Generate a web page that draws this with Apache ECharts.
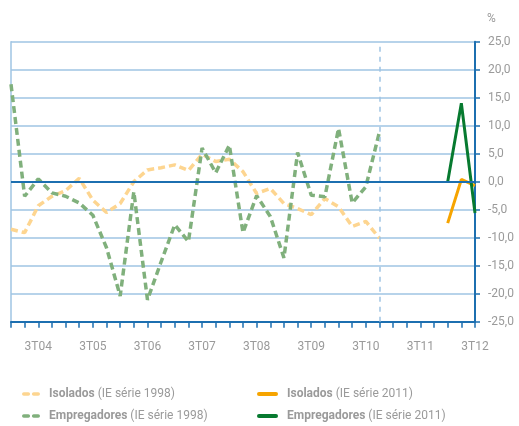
<!DOCTYPE html>
<html>
<head>
<meta charset="utf-8">
<script src="https://cdn.jsdelivr.net/npm/echarts@6/dist/echarts.min.js"></script>
<style>
  html, body { margin: 0; padding: 0; background: #fff; }
  #chart { width: 519px; height: 426px; }
</style>
</head>
<body>
<div id="chart"></div>
<script>
// trimestres 1T04 .. 3T12
var quarters = [
  "1T04", "2T04", "3T04", "4T04", "1T05", "2T05", "3T05", "4T05",
  "1T06", "2T06", "3T06", "4T06", "1T07", "2T07", "3T07", "4T07",
  "1T08", "2T08", "3T08", "4T08", "1T09", "2T09", "3T09", "4T09",
  "1T10", "2T10", "3T10", "4T10", "1T11", "2T11", "3T11", "4T11",
  "1T12", "2T12", "3T12"
];

var isolados1998 = [
  -8.5, -9.1, -4.3, -2.6, -1.6, 0.6, -3.3, -5.5,
  -3.9, 0.0, 2.1, 2.5, 3.0, 2.0, 4.9, 3.6,
  4.0, 1.8, -2.1, -1.2, -3.9, -4.8, -5.9, -3.0,
  -4.5, -8.0, -7.1, -10.1
];
var empregadores1998 = [
  17.4, -2.6, 0.5, -2.0, -2.6, -3.8, -6.0, -11.8,
  -20.4, -1.8, -21.1, -14.3, -7.7, -10.7, 6.0, 1.6,
  6.5, -9.1, -2.5, -6.2, -13.6, 5.2, -2.4, -2.7,
  9.5, -3.8, -0.9, 8.9
];
// série 2011: 1T12 .. 3T12
var isolados2011 = [-7.4, 0.4, -0.7];
var empregadores2011 = [0.0, 14.0, -5.6];

var yTicks = [-25, 25, 5];  // min, max, interval
var serieBreak = "4T10";

function pad(arr, start) {
  var out = [];
  for (var i = 0; i < quarters.length; i++) {
    out.push(i >= start && i - start < arr.length ? arr[i - start] : null);
  }
  return out;
}

var chart = echarts.init(document.getElementById("chart"));

var lightBlue = "#9fc4e3";
var darkBlue = "#1c6fb0";
var gray = "#9a9a9a";

var dashed = [7, 4];
var dashIcon = "path://M2,0H7A2,2 0 0 1 7,4H2A2,2 0 0 1 2,0ZM13,0H18A2,2 0 0 1 18,4H13A2,2 0 0 1 13,0Z";
var solidIcon = "path://M2,0H19A2,2 0 0 1 19,4H2A2,2 0 0 1 2,0Z";

var legendText = {
  color: gray,
  fontSize: 12,
  fontFamily: "Roboto",
  padding: [0, 0, 0, 4],
  rich: {
    b: { fontWeight: "bold", color: gray, fontSize: 12, fontFamily: "Roboto" },
    n: { color: gray, fontSize: 12, fontFamily: "Roboto" }
  }
};
function legendFmt(name) {
  var i = name.indexOf(" ");
  return "{b|" + name.slice(0, i) + "} {n|" + name.slice(i + 1) + "}";
}
function legendAt(name, left, top, w, icon) {
  return {
    left: left,
    top: top,
    padding: 0,
    icon: icon,
    itemWidth: w,
    itemHeight: 4,
    data: [name],
    formatter: legendFmt,
    textStyle: legendText
  };
}

var options = {
  animation: false,
  grid: {
    left: 11,
    right: 44,
    top: 41.7,
    bottom: 104.3
  },
  legend: [
    legendAt("Isolados (IE série 1998)", 22, 388, 18, dashIcon),
    legendAt("Empregadores (IE série 1998)", 22, 410, 18, dashIcon),
    legendAt("Isolados (IE série 2011)", 257, 388, 21, solidIcon),
    legendAt("Empregadores (IE série 2011)", 257, 410, 21, solidIcon)
  ],
  xAxis: {
    type: "category",
    boundaryGap: false,
    data: quarters,
    axisLine: {
      onZero: false,
      lineStyle: { color: darkBlue, width: 2 }
    },
    axisTick: {
      show: true,
      interval: 0,
      length: 6,
      lineStyle: { color: darkBlue, width: 1.5 }
    },
    axisLabel: {
      interval: function (i) { return i % 4 === 2; },
      color: gray,
      fontSize: 12,
      fontFamily: "Roboto",
      margin: 19
    },
    splitLine: { show: false }
  },
  yAxis: [
    {
      type: "value",
      position: "right",
      min: yTicks[0],
      max: yTicks[1],
      interval: yTicks[2],
      name: "%",
      nameLocation: "end",
      nameGap: 17,
      nameTextStyle: {
        color: gray,
        fontSize: 12,
        fontFamily: "Roboto",
        align: "left",
        padding: [0, 0, 0, 12]
      },
      axisLine: {
        show: true,
        lineStyle: { color: darkBlue, width: 2 }
      },
      axisTick: {
        show: true,
        length: 5,
        lineStyle: { color: darkBlue, width: 1.5 }
      },
      axisLabel: {
        color: gray,
        fontSize: 12,
        fontFamily: "Roboto",
        margin: 13,
        align: "left",
        formatter: function (v) { return v.toFixed(1).replace(".", ","); }
      },
      splitLine: {
        show: true,
        lineStyle: { color: lightBlue, width: 1.5 }
      }
    },
    {
      // linha vertical da esquerda
      type: "value",
      position: "left",
      min: yTicks[0],
      max: yTicks[1],
      interval: yTicks[2],
      axisLine: { show: true, lineStyle: { color: lightBlue, width: 1.5 } },
      axisTick: { show: false },
      axisLabel: { show: false },
      splitLine: { show: false }
    }
  ],
  series: [
    {
      name: "Isolados (IE série 1998)",
      type: "line",
      data: pad(isolados1998, 0),
      symbol: "none",
      z: 3,
      itemStyle: { color: "#fdd590" },
      lineStyle: { color: "#fdd590", width: 3.5, type: dashed },
      markLine: {
        silent: true,
        symbol: "none",
        label: { show: false },
        data: [
          { xAxis: serieBreak, lineStyle: { color: lightBlue, width: 1.5, type: [5, 5] } },
          { yAxis: 0, lineStyle: { color: darkBlue, width: 2, type: "solid" } }
        ]
      }
    },
    {
      name: "Isolados (IE série 2011)",
      type: "line",
      data: pad(isolados2011, 32),
      symbol: "none",
      z: 4,
      itemStyle: { color: "#f6a400" },
      lineStyle: { color: "#f6a400", width: 3 }
    },
    {
      name: "Empregadores (IE série 1998)",
      type: "line",
      data: pad(empregadores1998, 0),
      symbol: "none",
      z: 3,
      itemStyle: { color: "#80b07c" },
      lineStyle: { color: "#80b07c", width: 3.5, type: dashed }
    },
    {
      name: "Empregadores (IE série 2011)",
      type: "line",
      data: pad(empregadores2011, 32),
      symbol: "none",
      z: 4,
      itemStyle: { color: "#077a30" },
      lineStyle: { color: "#077a30", width: 3 }
    }
  ]
};

chart.setOption(options);
</script>
</body>
</html>
